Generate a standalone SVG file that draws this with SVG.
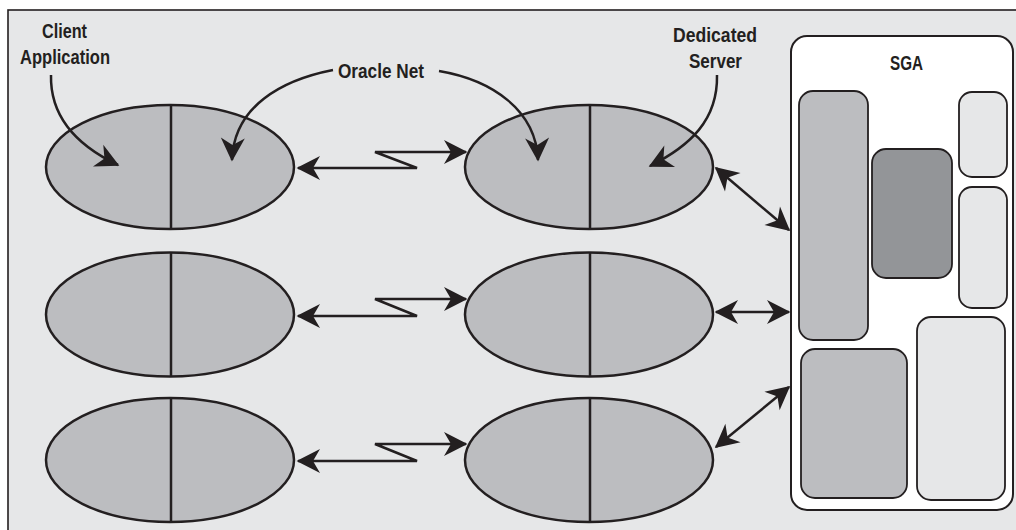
<svg xmlns="http://www.w3.org/2000/svg" width="1016" height="530" viewBox="0 0 1016 530">
<defs>
<style>
.bg{fill:#e6e7e8;stroke:#231f20;stroke-width:1.6}
.proc{fill:#bcbdc0;stroke:#231f20;stroke-width:2.5}
.div{stroke:#231f20;stroke-width:2.5;fill:none}
.con{fill:none;stroke:#231f20;stroke-width:2.5}
.lbl{font-family:'Liberation Sans','Arial',sans-serif;font-weight:bold;font-size:20.5px;fill:#231f20;text-anchor:middle}
.sga{fill:#ffffff;stroke:#231f20;stroke-width:2}
.mid{fill:#bcbdc0;stroke:#231f20;stroke-width:1.8}
.dark{fill:#939598;stroke:#231f20;stroke-width:1.8}
.light{fill:#e6e7e8;stroke:#231f20;stroke-width:1.8}
</style>
<marker id="ah" viewBox="-24 -13 26 26" refX="0" refY="0" markerWidth="26" markerHeight="26" markerUnits="userSpaceOnUse" orient="auto-start-reverse">
<path d="M1.5,0 L-22,-12 L-15,0 L-22,12 Z" fill="#231f20"/>
</marker>
</defs>
<rect class="bg" x="8" y="10" width="1020" height="530"/>

<g id="client1"><ellipse class="proc" cx="170" cy="167" rx="124" ry="62"/><line class="div" x1="171" y1="105" x2="171" y2="229"/></g>
<g id="server1"><ellipse class="proc" cx="589" cy="167" rx="124" ry="62"/><line class="div" x1="590" y1="105" x2="590" y2="229"/></g>
<g id="client2"><ellipse class="proc" cx="170" cy="314.5" rx="124" ry="62"/><line class="div" x1="171" y1="252.5" x2="171" y2="376.5"/></g>
<g id="server2"><ellipse class="proc" cx="589" cy="314.5" rx="124" ry="62"/><line class="div" x1="590" y1="252.5" x2="590" y2="376.5"/></g>
<g id="client3"><ellipse class="proc" cx="170" cy="460" rx="124" ry="62"/><line class="div" x1="171" y1="398" x2="171" y2="522"/></g>
<g id="server3"><ellipse class="proc" cx="589" cy="460" rx="124" ry="62"/><line class="div" x1="590" y1="398" x2="590" y2="522"/></g>

<g id="sga">
<rect class="sga" x="791" y="36" width="222" height="474" rx="16"/>
<text class="lbl" x="906.5" y="70" textLength="33" lengthAdjust="spacingAndGlyphs">SGA</text>
<rect class="mid" x="799" y="91" width="69" height="249" rx="14"/>
<rect class="dark" x="872" y="149" width="80" height="129" rx="14"/>
<rect class="light" x="959" y="92" width="48" height="85" rx="13"/>
<rect class="light" x="959" y="187" width="48" height="121" rx="13"/>
<rect class="mid" x="801" y="349" width="106" height="149" rx="14"/>
<rect class="light" x="917" y="317" width="88" height="183" rx="14"/>
</g>

<g id="labels">
<text class="lbl" x="64.5" y="38" textLength="45" lengthAdjust="spacingAndGlyphs">Client</text>
<text class="lbl" x="65" y="64" textLength="90" lengthAdjust="spacingAndGlyphs">Application</text>
<text class="lbl" x="381" y="78" textLength="86" lengthAdjust="spacingAndGlyphs">Oracle Net</text>
<text class="lbl" x="715" y="42" textLength="84" lengthAdjust="spacingAndGlyphs">Dedicated</text>
<text class="lbl" x="715.5" y="68" textLength="53" lengthAdjust="spacingAndGlyphs">Server</text>
</g>

<g id="connectors">
<path class="con" d="M51,75 C50,118 78,146 118,165" marker-end="url(#ah)"/>
<path class="con" d="M333,70 C282,80 234,106 232,160" marker-end="url(#ah)"/>
<path class="con" d="M439,71 C492,80 536,110 538,160" marker-end="url(#ah)"/>
<path class="con" d="M717,75 C718,120 690,146 650,166" marker-end="url(#ah)"/>

<path class="con" d="M298,168 L417,168 L375,152 L466,152" marker-start="url(#ah)" marker-end="url(#ah)"/>
<path class="con" d="M298,316 L417,316 L375,299 L466,299" marker-start="url(#ah)" marker-end="url(#ah)"/>
<path class="con" d="M298,461 L417,461 L375,444 L466,444" marker-start="url(#ah)" marker-end="url(#ah)"/>

<path class="con" d="M716,168 L789,230" marker-start="url(#ah)" marker-end="url(#ah)"/>
<path class="con" d="M716,312 L789,312" marker-start="url(#ah)" marker-end="url(#ah)"/>
<path class="con" d="M716,447 L789,387" marker-start="url(#ah)" marker-end="url(#ah)"/>
</g>
</svg>
